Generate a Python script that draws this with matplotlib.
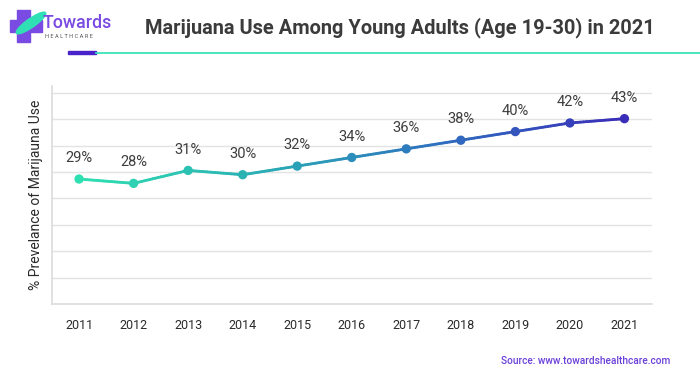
import numpy as np
import matplotlib
matplotlib.use("Agg")
import matplotlib.pyplot as plt
from matplotlib.collections import LineCollection
from matplotlib.colors import LinearSegmentedColormap
from matplotlib.patches import Rectangle, Ellipse
from matplotlib.lines import Line2D

years = [2011, 2012, 2013, 2014, 2015, 2016, 2017, 2018, 2019, 2020, 2021]
values = [29, 28, 31, 30, 32, 34, 36, 38, 40, 42, 43]
labels = ["29%", "28%", "31%", "30%", "32%", "34%", "36%", "38%", "40%", "42%", "43%"]

title = "Marijuana Use Among Young Adults (Age 19-30) in 2021"
ylabel = "% Prevelance of Marijauna Use"
source = "Source: www.towardshealthcare.com"

plt.rcParams['font.family'] = ['Roboto', 'DejaVu Sans']

fig = plt.figure(figsize=(7, 3.75), dpi=100)
ax = fig.add_axes([0.074, 0.189, 0.857, 0.582])

cmap = LinearSegmentedColormap.from_list("g", ["#2FE0B0", "#2AAEB5", "#2E6FBF", "#3A2DB8"])

# gradient line
xs = np.array(years, dtype=float)
ys = np.array(values, dtype=float)
segs = []
cols = []
n = 20
for i in range(len(xs) - 1):
    for k in range(n):
        t0, t1 = k / n, (k + 1) / n
        x0 = xs[i] + (xs[i+1] - xs[i]) * t0
        x1 = xs[i] + (xs[i+1] - xs[i]) * t1
        y0 = ys[i] + (ys[i+1] - ys[i]) * t0
        y1 = ys[i] + (ys[i+1] - ys[i]) * t1
        segs.append([(x0, y0), (x1, y1)])
        cols.append(cmap(((x0 + x1) / 2 - xs[0]) / (xs[-1] - xs[0])))
lc = LineCollection(segs, colors=cols, linewidths=2.0, capstyle='round', zorder=3)
ax.add_collection(lc)
mcols = [cmap((x - xs[0]) / (xs[-1] - xs[0])) for x in xs]
ax.scatter(xs, ys, s=45, c=mcols, zorder=4, edgecolors='none')

for x, y, l in zip(xs, ys, labels):
    ax.annotate(l, (x, y), xytext=(0, 10), textcoords='offset points', ha='center', va='bottom',
                fontsize=10.5, color='#3d3d3d')

ax.set_xlim(2010.5, 2021.5)
ax.set_ylim(0, 50.6)
ax.set_yticks(np.linspace(0, 49, 9))
ax.set_yticklabels([])
ax.set_xticks(years)
ax.set_xticklabels([str(y) for y in years], fontsize=9, color='#2a2a2a')
ax.tick_params(axis='both', length=0)
ax.tick_params(axis='x', pad=11)
ax.grid(axis='y', color='#e3e3e3', linewidth=1)
ax.set_axisbelow(True)
for s in ['top', 'right']:
    ax.spines[s].set_visible(False)
for s in ['left', 'bottom']:
    ax.spines[s].set_color('#dcdcdc')
    ax.spines[s].set_linewidth(1.2)
ax.set_ylabel(ylabel, fontsize=10, color='#2a2a2a', labelpad=3)

# title
fig.text(0.207, 0.925, title, fontsize=14.4, fontweight='bold', color='#3b3b3b', va='center', ha='left')

# header lines
fig.add_artist(Line2D([96/700, 1.0], [1 - 52.5/375] * 2, color='#3DE3B8', linewidth=1.3))
fig.add_artist(Rectangle((68/700, 1 - 54/375), 28/700, 3.5/375, color='#4A22C9', transform=fig.transFigure))

# logo
purple = '#7A4BE3'
fig.add_artist(Rectangle((17/700, 1 - 42/375), 13/700, 32/375, color=purple, transform=fig.transFigure))
fig.add_artist(Rectangle((10/700, 1 - 32/375), 32/700, 12/375, color=purple, transform=fig.transFigure))
fig.add_artist(Ellipse((31/700, 1 - 23/375), 12/700, 26/375, angle=-35, color='#2FE0B5', transform=fig.transFigure))
fig.text(43/700, 1 - 23.5/375, "Towards", fontsize=12.8, color=purple, fontweight='medium', va='center', ha='left')
fig.text(45/700, 1 - 37/375, "H E A L T H C A R E", fontsize=4.1, color='#555555', va='center', ha='left')

fig.text(670/700, 1 - 361/375, source, fontsize=7.3, color='#6A40D8', ha='right', va='center', fontweight='medium')

fig.savefig("out.png", dpi=100)
